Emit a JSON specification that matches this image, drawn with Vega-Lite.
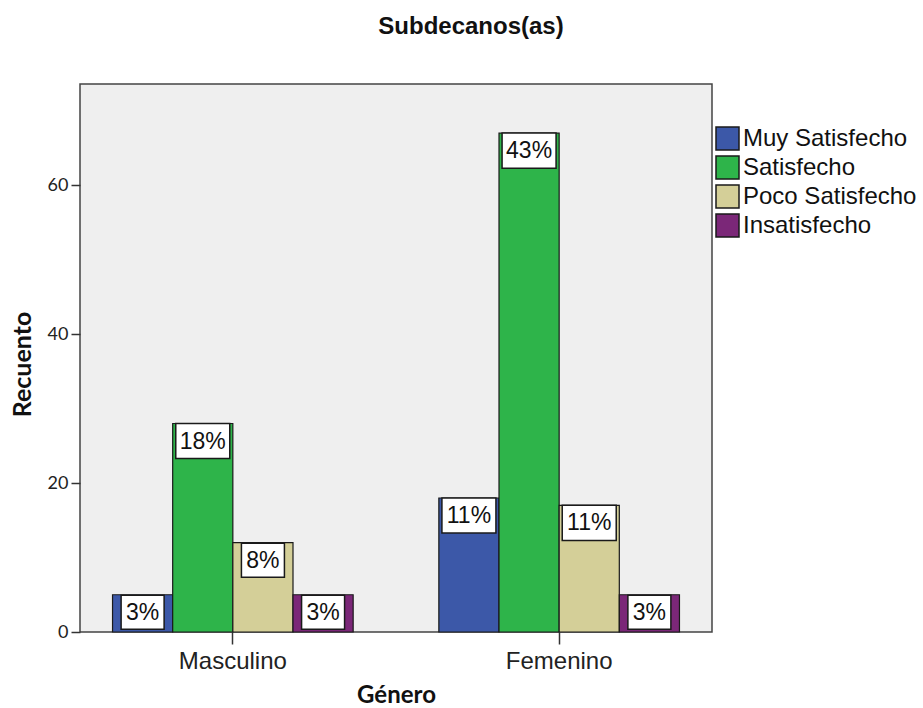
{
  "$schema": "https://vega.github.io/schema/vega-lite/v6.json",
  "autosize": {"type": "none"},
  "padding": {"left": 80, "top": 84, "right": 211, "bottom": 76},
  "width": 632,
  "height": 548,
  "background": "white",
  "title": {
    "text": "Subdecanos(as)",
    "font": "Liberation Sans",
    "fontSize": 24,
    "fontWeight": "bold",
    "color": "#111",
    "anchor": "middle",
    "frame": "group",
    "dx": 75,
    "baseline": "alphabetic",
    "offset": 26
  },
  "data": {
    "values": [
      {"genero": "Masculino", "nivel": "Muy Satisfecho", "recuento": 5, "pct": "3%"},
      {"genero": "Masculino", "nivel": "Satisfecho", "recuento": 28, "pct": "18%"},
      {"genero": "Masculino", "nivel": "Poco Satisfecho", "recuento": 12, "pct": "8%"},
      {"genero": "Masculino", "nivel": "Insatisfecho", "recuento": 5, "pct": "3%"},
      {"genero": "Femenino", "nivel": "Muy Satisfecho", "recuento": 18, "pct": "11%"},
      {"genero": "Femenino", "nivel": "Satisfecho", "recuento": 67, "pct": "43%"},
      {"genero": "Femenino", "nivel": "Poco Satisfecho", "recuento": 17, "pct": "11%"},
      {"genero": "Femenino", "nivel": "Insatisfecho", "recuento": 5, "pct": "3%"}
    ]
  },
  "encoding": {
    "x": {
      "field": "genero",
      "type": "nominal",
      "sort": ["Masculino", "Femenino"],
      "scale": {"paddingInner": 0.2626, "paddingOuter": 0.0997},
      "axis": {
        "title": "Género",
        "titleFont": "Lato",
        "titleFontSize": 24,
        "titleFontWeight": "bold",
        "titleColor": "#111",
        "titleX": 316,
        "titleY": 70,
        "titleBaseline": "alphabetic",
        "titleAlign": "center",
        "labelAngle": 0,
        "labelFont": "Liberation Sans",
        "labelFontSize": 24,
        "labelColor": "#222",
        "labelPadding": 5,
        "tickSize": 12,
        "tickWidth": 1.5,
        "tickColor": "#333",
        "domain": false,
        "grid": false
      }
    },
    "xOffset": {
      "field": "nivel",
      "type": "nominal",
      "sort": ["Muy Satisfecho", "Satisfecho", "Poco Satisfecho", "Insatisfecho"],
      "scale": {"paddingInner": 0, "paddingOuter": 0}
    },
    "y": {
      "field": "recuento",
      "type": "quantitative",
      "scale": {"domain": [0, 73.6], "nice": false},
      "axis": {
        "title": "Recuento",
        "titleFont": "Lato",
        "titleFontSize": 25,
        "titleFontWeight": "bold",
        "titleColor": "#111",
        "titleAngle": -90,
        "titleX": -50,
        "titleY": 280,
        "titleAlign": "center",
        "titleBaseline": "alphabetic",
        "values": [0, 20, 40, 60],
        "labelFont": "Lato",
        "labelFontSize": 18,
        "labelColor": "#222",
        "labelPadding": 3,
        "tickSize": 9,
        "tickWidth": 1.5,
        "tickColor": "#333",
        "domain": false,
        "grid": false
      }
    }
  },
  "layer": [
    {
      "mark": {"type": "bar", "stroke": "#1a1a1a", "strokeWidth": 1.2},
      "encoding": {
        "color": {
          "field": "nivel",
          "type": "nominal",
          "scale": {
            "domain": ["Muy Satisfecho", "Satisfecho", "Poco Satisfecho", "Insatisfecho"],
            "range": ["#3C58A8", "#2EB44A", "#D4CF98", "#7B2778"]
          },
          "legend": {
            "title": null,
            "orient": "none",
            "legendX": 635,
            "legendY": 42,
            "padding": 0,
            "symbolType": "square",
            "symbolSize": 529,
            "symbolStrokeColor": "#1a1a1a",
            "symbolStrokeWidth": 1.5,
            "symbolOpacity": 1,
            "labelFont": "Liberation Sans",
            "labelFontSize": 24,
            "labelColor": "#111",
            "labelOffset": 3,
            "labelLimit": 300,
            "rowPadding": 0
          }
        }
      }
    },
    {
      "mark": {"type": "point", "filled": true, "fill": "white", "stroke": "#1a1a1a", "strokeWidth": 1.5, "opacity": 1, "yOffset": 17.5},
      "encoding": {
        "shape": {
          "condition": {"test": "length(datum.pct) > 2", "value": "M-1,-0.65H1V0.65H-1Z"},
          "value": "M-1,-0.79H1V0.79H-1Z"
        },
        "size": {
          "condition": {"test": "length(datum.pct) > 2", "value": 2916},
          "value": 1849
        }
      }
    },
    {
      "mark": {"type": "text", "font": "Liberation Sans", "fontSize": 23, "color": "#111", "baseline": "middle", "align": "center", "yOffset": 18},
      "encoding": {
        "text": {"field": "pct", "type": "nominal"}
      }
    }
  ],
  "config": {
    "view": {"stroke": "#444", "strokeWidth": 1.5, "fill": "#EFEFEF"}
  }
}
